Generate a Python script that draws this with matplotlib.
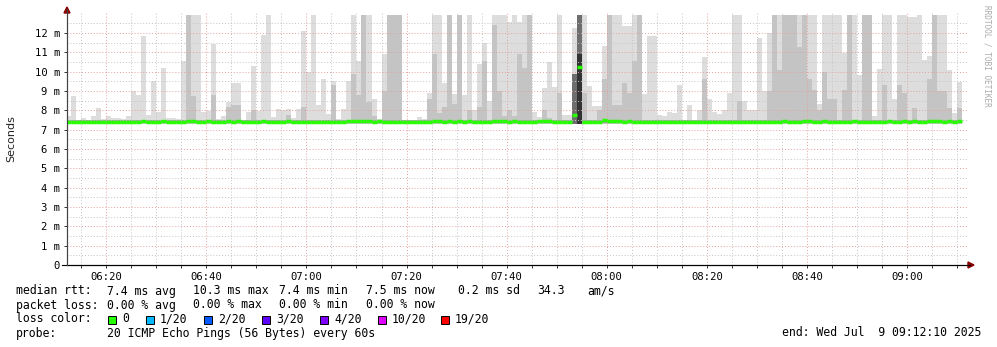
import numpy as np
import matplotlib
matplotlib.use("Agg")
import matplotlib.pyplot as plt
from matplotlib.patches import Polygon, Rectangle
from matplotlib.lines import Line2D

F = 12.93  # smoke clipped at the top of the graph

# one bar per minute, starting 06:12 (graph window 06:12:10 - 09:12:10)
smoke_top = [
    7.71, 8.74, 7.45, 7.59, 7.50, 7.71, 8.12, 7.55, 7.70, 7.60,
    7.62, 7.57, 7.70, 9.00, 8.80, 11.85, 7.75, 9.52, 7.90, 10.17,
    7.62, 7.60, 7.55, 10.55, F, F, F, 7.90, 7.95, 11.43,
    7.55, 7.70, 8.45, 9.43, 9.43, 7.45, 7.90, 10.30, 7.95, 11.90,
    F, 7.65, 8.05, 8.00, 8.05, 7.60, 8.05, 12.10, 9.97, F,
    8.30, 9.60, 7.80, 9.52, 7.55, 8.05, 9.50, F, 10.55, F,
    F, 8.60, 7.55, 10.90, F, F, F, 7.50, 7.45, 7.45,
    7.65, 7.55, 8.90, F, F, 9.40, F, 8.85, F, 8.80,
    F, 8.00, 10.40, 11.50, 8.50, F, F, F, 12.60, F,
    12.60, F, F, 7.90, 7.65, 9.15, 10.50, 9.22, F, 7.76,
    7.76, 12.24, F, F, 9.26, 8.25, 8.25, 11.35, F, F,
    F, 12.36, 12.36, F, F, 8.85, 11.85, 11.85, 7.76, 7.70,
    7.93, 7.85, 9.31, 7.50, 8.30, 7.50, 8.00, 10.78, 8.60, 7.90,
    7.80, 8.00, 8.90, F, F, 8.50, 8.00, 8.00, 11.76, 9.00,
    12.00, F, F, F, F, F, F, F, F, F,
    8.35, F, F, F, F, 10.95, F, F, 9.83, F,
    F, 7.70, 10.12, F, F, 8.60, F, F, 12.85, 12.85,
    F, 10.60, 10.80, F, F, F, 10.10, 7.85, 9.48,
]

# darker smoke layer (inner pings), index -> top
smoke_mid = {
    24: F, 25: 8.75, 29: 8.8, 32: 8.2, 33: 8.3, 34: 8.3, 37: 8.0, 44: 7.75,
    47: 8.2, 53: 9.3, 57: 9.9, 58: 8.8, 59: F, 60: 8.45, 61: 7.7, 63: 9.0,
    64: F, 65: F, 66: F, 72: 8.6, 73: 10.9, 74: 7.85, 75: 8.2, 76: F,
    77: 8.35, 78: F, 80: 8.0, 82: 8.2, 83: 10.55, 85: 12.4, 86: 9.0, 87: 7.7,
    88: 8.0, 89: 7.7, 90: 10.9, 91: 10.2, 92: F, 95: 8.0, 96: 7.6, 98: 8.9,
    103: 8.9, 106: 8.0, 107: 9.6, 108: F, 109: 8.3, 110: 8.3, 111: 9.4,
    112: 8.9, 113: 10.55, 114: F, 127: 9.6, 134: 8.5, 140: 9.0, 141: F,
    142: 10.1, 143: F, 144: F, 145: F, 146: 11.3, 147: F, 148: 9.6, 149: 9.05,
    150: 8.0, 151: 10.0, 152: 8.6, 153: 8.6, 155: 9.05, 156: F, 159: F, 160: F,
    163: 9.3, 166: 9.3, 167: 8.9, 169: 8.1, 172: 9.6, 173: F, 174: 9.0,
    175: 9.0, 176: 8.1, 178: 8.1,
}

# the one spike around 07:53
spike_top = {101: 9.9, 102: F}
spike_core = {102: 10.9}

median = [
    7.40, 7.40, 7.42, 7.41, 7.40, 7.40, 7.41, 7.40, 7.39, 7.41,
    7.40, 7.40, 7.41, 7.40, 7.42, 7.44, 7.40, 7.40, 7.42, 7.45,
    7.40, 7.40, 7.39, 7.40, 7.45, 7.46, 7.42, 7.40, 7.43, 7.42,
    7.39, 7.40, 7.43, 7.40, 7.46, 7.41, 7.40, 7.42, 7.41, 7.43,
    7.42, 7.40, 7.40, 7.41, 7.44, 7.40, 7.41, 7.40, 7.41, 7.42,
    7.40, 7.40, 7.41, 7.39, 7.40, 7.42, 7.44, 7.46, 7.47, 7.45,
    7.44, 7.42, 7.43, 7.41, 7.40, 7.40, 7.39, 7.38, 7.38, 7.38,
    7.38, 7.39, 7.40, 7.43, 7.43, 7.41, 7.44, 7.42, 7.43, 7.40,
    7.43, 7.42, 7.40, 7.40, 7.41, 7.46, 7.46, 7.45, 7.41, 7.43,
    7.42, 7.40, 7.39, 7.40, 7.45, 7.44, 7.43, 7.40, 7.40, 7.42,
    7.40, 7.76, 10.26, 7.42, 7.42, 7.40, 7.41, 7.48, 7.44, 7.43,
    7.44, 7.42, 7.43, 7.40, 7.38, 7.41, 7.42, 7.42, 7.41, 7.40,
    7.41, 7.40, 7.41, 7.40, 7.40, 7.41, 7.40, 7.42, 7.42, 7.41,
    7.40, 7.41, 7.40, 7.42, 7.41, 7.42, 7.40, 7.41, 7.42, 7.42,
    7.40, 7.40, 7.41, 7.45, 7.42, 7.40, 7.41, 7.43, 7.45, 7.42,
    7.40, 7.43, 7.42, 7.40, 7.42, 7.41, 7.40, 7.44, 7.41, 7.40,
    7.41, 7.40, 7.40, 7.41, 7.43, 7.42, 7.41, 7.44, 7.40, 7.43,
    7.42, 7.42, 7.43, 7.45, 7.44, 7.42, 7.43, 7.42, 7.44,
]

tick_pos = [8, 28, 48, 68, 88, 108, 128, 148, 168]   # minutes after 06:12
tick_labels = ["06:20", "06:40", "07:00", "07:20", "07:40", "08:00", "08:20", "08:40", "09:00"]

loss_labels = ["0", "1/20", "2/20", "3/20", "4/20", "10/20", "19/20"]
loss_colors = ["#26ff00", "#00b8ff", "#0059ff", "#5e00ff", "#7e00ff", "#dd00ff", "#ff0000"]

W, H = 997, 347
mono = "DejaVu Sans Mono"

fig = plt.figure(figsize=(W / 100, H / 100), dpi=100)
ax = fig.add_axes([67 / W, (H - 265) / H, (968 - 67) / W, (265 - 13) / H])

n = len(smoke_top)
x = np.arange(n)
lo = 7.28
top = np.array(smoke_top)
ax.bar(x, top - lo, bottom=lo, width=1, align="edge", color="#dddddd", linewidth=0, zorder=1)

mid = np.array([smoke_mid.get(i, 7.5) for i in range(n)])
ax.bar(x, mid - 7.32, bottom=7.32, width=1, align="edge", color="#c4c4c4", linewidth=0, zorder=1.1)

ax.bar(x, 0.16, bottom=7.34, width=1, align="edge", color="#a0a0a0", linewidth=0, zorder=1.2)

for i, v in spike_top.items():
    ax.bar(i, v - 7.3, bottom=7.3, width=1, align="edge", color="#6e6e6e", linewidth=0, zorder=1.3)
for i, v in spike_core.items():
    ax.bar(i, v - 7.3, bottom=7.3, width=1, align="edge", color="#333333", linewidth=0, zorder=1.4)

ax.hlines(median, x, x + 1, color="#26ff00", lw=2.5, zorder=3)

ax.set_xlim(1 / 6, 180 + 1 / 6)
ax.set_ylim(0, 13.04)

# grid like rrdtool: red major, gray minor, both dotted
ax.set_xticks(tick_pos)
ax.set_xticklabels(tick_labels, fontfamily=mono, fontsize=7.6)
ax.set_xticks(np.arange(3, 181, 5), minor=True)
ax.set_yticks(range(13))
ax.set_yticklabels(["0"] + ["%d m" % k for k in range(1, 13)], fontfamily=mono, fontsize=7.6)
ax.set_yticks(np.arange(0.5, 13, 1), minor=True)
ax.set_axisbelow(False)
ax.grid(which="minor", color="#c4c4c4", linestyle=(0, (1, 2)), lw=0.7)
ax.grid(which="major", color="#e4a0a0", linestyle=(0, (1, 2)), lw=0.7)
ax.tick_params(axis="both", which="both", length=2, width=0.7, color="#333333", pad=3)
ax.tick_params(axis="y", which="minor", length=0)

for s in ["top", "right"]:
    ax.spines[s].set_visible(False)
ax.spines["left"].set_color("#444444")
ax.spines["bottom"].set_color("#000000")
ax.spines["left"].set_linewidth(0.8)
ax.spines["bottom"].set_linewidth(0.8)
ax.patch.set_facecolor("white")


def fx(px):
    return px / W


def fy(py):
    return 1 - py / H


# axis extensions and arrows
fig.add_artist(Line2D([fx(62), fx(970)], [fy(265), fy(265)], color="black", lw=0.8))
fig.add_artist(Line2D([fx(67), fx(67)], [fy(265), fy(9)], color="#444444", lw=0.8))
fig.add_artist(Polygon([[fx(968), fy(262)], [fx(968), fy(268)], [fx(974), fy(265)]],
                       closed=True, color="#8b0000", transform=fig.transFigure))
fig.add_artist(Polygon([[fx(64), fy(13)], [fx(70), fy(13)], [fx(67), fy(7)]],
                       closed=True, color="#8b0000", transform=fig.transFigure))

fig.text(fx(11), fy(139), "Seconds", rotation=90, ha="center", va="center", fontsize=8, color="#222222")
fig.text(fx(987), fy(5), "RRDTOOL / TOBI OETIKER", rotation=270, ha="center", va="top",
         fontfamily=mono, fontsize=5.6, color="#aaaaaa")

fs = 8.3
line1 = [(16, "median rtt:"), (107, "7.4 ms avg"), (193, "10.3 ms max"), (279, "7.4 ms min"),
         (366, "7.5 ms now"), (458, "0.2 ms sd"), (537, "34.3"), (587, "am/s")]
line2 = [(16, "packet loss:"), (107, "0.00 % avg"), (193, "0.00 % max"), (279, "0.00 % min"),
         (366, "0.00 % now")]
for px, t in line1:
    fig.text(fx(px), fy(291), t, fontfamily=mono, fontsize=fs, va="center", color="black")
for px, t in line2:
    fig.text(fx(px), fy(305), t, fontfamily=mono, fontsize=fs, va="center", color="black")

fig.text(fx(16), fy(319), "loss color:", fontfamily=mono, fontsize=fs, va="center", color="black")
sq_x = [108, 146, 204, 262, 320, 378, 441]
for px, lab, col in zip(sq_x, loss_labels, loss_colors):
    fig.add_artist(Rectangle((fx(px), fy(323.5)), 8 / W, 8 / H, facecolor=col, edgecolor="black",
                             lw=0.7, transform=fig.transFigure))
    fig.text(fx(px + 14), fy(319), lab, fontfamily=mono, fontsize=fs, va="center", color="black")

fig.text(fx(16), fy(333), "probe:", fontfamily=mono, fontsize=fs, va="center", color="black")
fig.text(fx(107), fy(333), "20 ICMP Echo Pings (56 Bytes) every 60s", fontfamily=mono, fontsize=fs,
         va="center", color="black")
fig.text(fx(981), fy(333), "end: Wed Jul  9 09:12:10 2025", fontfamily=mono, fontsize=fs,
         va="center", ha="right", color="black")

fig.savefig("out.png", dpi=100, facecolor="white")
